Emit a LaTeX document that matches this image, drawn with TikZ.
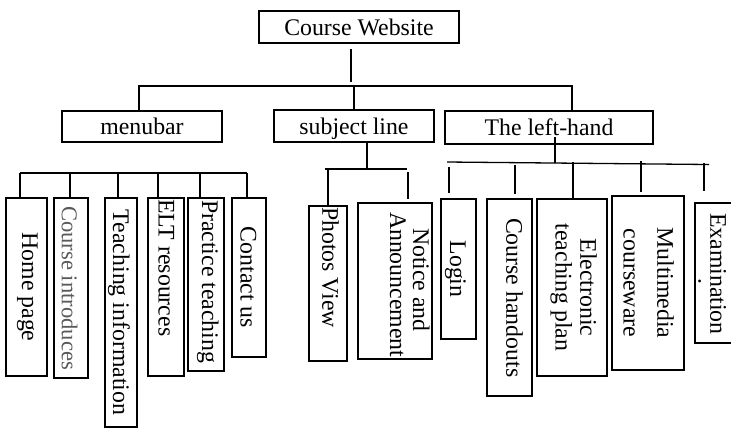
\documentclass[tikz,border=0pt]{standalone}
\usepackage{fontspec}
\setmainfont{Liberation Serif}
\definecolor{cigray}{gray}{0.35}
% baseline offset, text centred on box centre
\newcommand\txc[2]{\raisebox{#1}[0pt][0pt]{\makebox[0pt]{#2}}}
% baseline offset, start offset from box centre
\newcommand\txl[3]{\raisebox{#1}[0pt][0pt]{\makebox[0pt][l]{\hspace{#2}#3}}}
\begin{document}
\begin{tikzpicture}[x=1bp,y=-1bp,
  every node/.style={font=\fontsize{23.8bp}{28bp}\selectfont},
  hbox/.style={draw, line width=1.4bp, inner sep=0pt, outer sep=0pt},
  vbox/.style={draw, line width=1.4bp, inner sep=0pt, outer sep=0pt, rotate=-90},
  conn/.style={line width=1.3bp}]
\useasboundingbox (0,0) rectangle (731,428);

% top level
\node[hbox, minimum width=200bp, minimum height=32bp] (cw) at (359,27) {Course Website};
\node[hbox, minimum width=160bp, minimum height=31bp] (mb) at (142,126.5) {menubar};
\node[hbox, minimum width=160bp, minimum height=32bp, text depth=0pt] (sl) at (354,126) {subject line};
\node[hbox, minimum width=208bp, minimum height=33bp] (lh) at (549,127.5) {The left-hand};

% menubar children
\node[vbox, minimum width=178bp, minimum height=41bp] (hp) at (26.5,287) {\txc{-4.3bp}{Home page}};
\node[vbox, minimum width=180bp, minimum height=34bp] (ci) at (71,288) {\txc{-9.1bp}{\fontsize{22.6bp}{26bp}\selectfont\textcolor{cigray}{Course introduces}}};
\node[vbox, minimum width=229bp, minimum height=32bp] (ti) at (121,312.5) {\txc{-8bp}{Teaching information}};
\node[vbox, minimum width=178bp, minimum height=36bp] (elt) at (166,287) {\txl{-7.4bp}{-88bp}{ELT resources}};
\node[vbox, minimum width=173bp, minimum height=36bp] (pt) at (206,284.5) {\txl{-4bp}{-84.5bp}{Practice teaching}};
\node[vbox, minimum width=159bp, minimum height=34bp] (cu) at (249,277.5) {\txc{-8.5bp}{Contact us}};

% subject line children
\node[vbox, minimum width=155bp, minimum height=38bp] (pv) at (328,283.5) {\txl{-5.6bp}{-76.5bp}{Photos View}};
\node[vbox, minimum width=156bp, minimum height=74bp] (na) at (395,281) {\txl{18bp}{-53bp}{Notice and}\txl{-5bp}{-69bp}{Announcement}};

% left-hand children
\node[vbox, minimum width=140bp, minimum height=35bp] (login) at (458.5,269) {\txc{-8.3bp}{Login}};
\node[vbox, minimum width=197bp, minimum height=45bp] (ch) at (509.5,297.5) {\txl{-3.1bp}{-79.5bp}{Course handouts}};
\node[vbox, minimum width=177bp, minimum height=70bp] (etp) at (572,287.5) {\txc{8.4bp}{Electronic}\txc{-16.5bp}{teaching plan}};
\node[vbox, minimum width=174bp, minimum height=72bp] (mm) at (648,283) {\txc{9.4bp}{Multimedia}\txc{-24.4bp}{courseware}};
\node[vbox, minimum width=140bp, minimum height=42bp] (ex) at (716,273) {\txl{-5.6bp}{-60bp}{Examination}\txl{-17.5bp}{5bp}{.}};

% connectors: top level
\coordinate (cwend) at (351,82);
\coordinate (j0) at (352,86);
\draw[conn, shorten <=6bp] (cw.south -| cwend) -- (cwend);
\draw[conn] (mb.north -| 139,0) |- (j0) -| (lh.north -| 572,0);
\draw[conn] (sl.north |- j0) -- (sl.north);

% menubar bus (not joined to menubar)
\coordinate (mbL) at (20,173);
\coordinate (mbR) at (247,173);
\draw[conn] (mbL) -- (mbR);
\draw[conn] (mbL) -- (hp.west -| mbL);
\draw[conn] (70,173) -- (ci.west -| 70,0);
\draw[conn] (118,173) -- (ti.west -| 118,0);
\draw[conn] (158,173) -- (elt.west -| 158,0);
\draw[conn] (200,173) -- (pt.west -| 200,0);
\draw[conn] (mbR) -- (cu.west -| mbR);

% subject line bus
\coordinate (slb) at (367,169);
\draw[conn] (sl.south -| slb) -- (slb);
\draw[conn] (325,169) -- (407,169);
\draw[conn] (328,169) -- (pv.west -| 328,0);
\draw[conn, shorten >=4bp] (408,172) -- (na.west -| 408,0);

% left-hand bus
\coordinate (lhb) at (555,163);
\draw[conn, shorten <=-7bp] (lh.south -| lhb) -- (lhb);
\draw[conn] (447,162) -- (709,164.5);
\draw[conn, shorten >=6bp] (449,167) -- (login.west -| 449,0);
\draw[conn, shorten >=5bp] (515,165) -- (ch.west -| 515,0);
\draw[conn] (573,162) -- (etp.west -| 573,0);
\draw[conn, shorten >=4bp] (641,161) -- (mm.west -| 641,0);
\draw[conn, shorten >=12bp] (704,163) -- (ex.west -| 704,0);
\end{tikzpicture}
\end{document}
